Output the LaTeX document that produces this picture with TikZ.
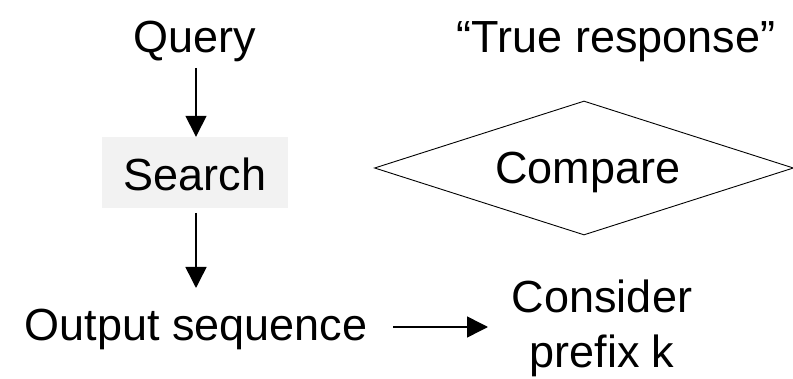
\documentclass[tikz,border=0pt]{standalone}
\usepackage{fontspec}
\setmainfont{Liberation Sans}
\usetikzlibrary{arrows.meta,shapes.geometric}
\begin{document}
\begin{tikzpicture}[x=1pt,y=-1pt,
  lbl/.style={font=\fontsize{45}{56}\selectfont, inner sep=0pt, anchor=base},
  flow/.style={line width=1.5pt, -{Triangle[width=21pt,length=21pt]}},
  searchbox/.style={fill=black!5, minimum width=186pt, minimum height=71pt, inner sep=0pt},
  cmpshape/.style={draw, line width=0.9pt, diamond, minimum width=419pt, minimum height=134pt, inner sep=0pt}]
  \useasboundingbox (0,0) rectangle (793,379);

  % text labels
  \node[lbl] (query) at (195,53) {Query};
  \node[lbl] (truth) at (616,53) {“True response”};
  \node[searchbox] (search) at (195,172.5) {};
  \node[lbl] (searchtxt) at (195,191) {Search};
  \node[cmpshape] (compare) at (584,168) {};
  \node[lbl] (cmptxt) at (588,184) {Compare};
  \node[lbl] (output) at (196,341) {Output sequence};
  \node[lbl] (consider) at (602,313) {Consider};
  \node[lbl] (prefix) at (602,368) {prefix k};

  % connectors
  \coordinate (q0) at (196,68);
  \coordinate (s1) at (196,213);
  \coordinate (o0) at (196,288);
  \coordinate (c0) at (393,327);
  \coordinate (c1) at (488,327);
  \draw[flow] (q0) -- (search.north -| q0);
  \draw[flow] (s1) -- (o0);
  \draw[flow] (c0) -- (c1);
\end{tikzpicture}
\end{document}
